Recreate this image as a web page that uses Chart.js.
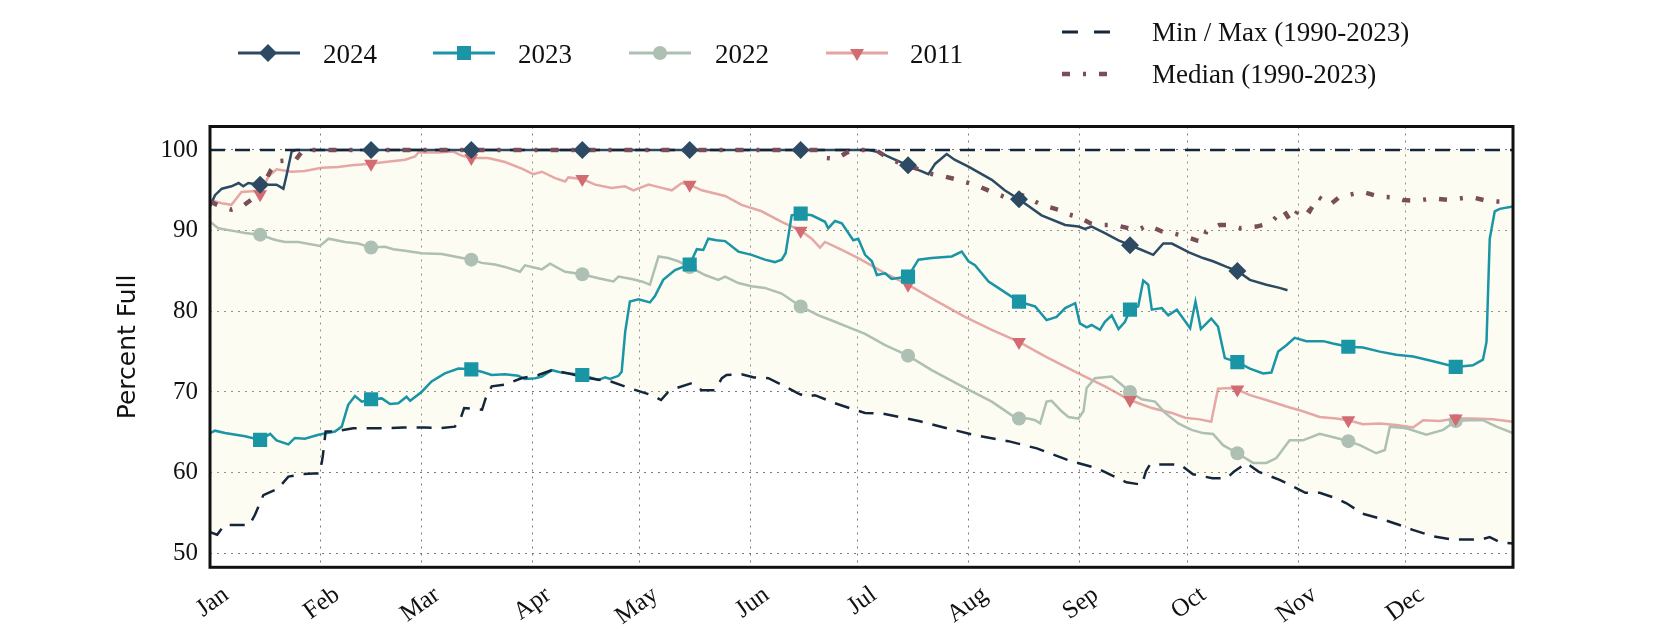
<!DOCTYPE html>
<html><head><meta charset="utf-8">
<script src="https://cdn.jsdelivr.net/npm/chart.js@4.4.1/dist/chart.umd.min.js"></script>
<style>
body{margin:0;background:#fff;}
#wrap{position:relative;width:1680px;height:630px;overflow:hidden;background:#fff;}
#c{position:absolute;left:0;top:0;}
.lg{position:absolute;font-family:"Liberation Serif",serif;font-size:27px;line-height:30px;color:#111;white-space:nowrap;}
.sw{position:absolute;overflow:visible;}
</style></head>
<body><div id="wrap"><canvas id="c" width="1680" height="630"></canvas>
<svg class="sw" style="left:238px;top:41px" width="62" height="24"><line x1="0" y1="12" x2="62" y2="12" stroke="#2c4a63" stroke-width="3"/><polygon points="21,12 30,3 39,12 30,21" fill="#2c4a63"/></svg>
<div class="lg" style="left:323px;top:39px">2024</div>
<svg class="sw" style="left:433px;top:41px" width="62" height="24"><line x1="0" y1="12" x2="62" y2="12" stroke="#1a95a6" stroke-width="3"/><rect x="24" y="5" width="14" height="14" fill="#1a95a6"/></svg>
<div class="lg" style="left:518px;top:39px">2023</div>
<svg class="sw" style="left:629px;top:41px" width="62" height="24"><line x1="0" y1="12" x2="62" y2="12" stroke="#aebfb3" stroke-width="3"/><circle cx="31" cy="12" r="7" fill="#aebfb3"/></svg>
<div class="lg" style="left:715px;top:39px">2022</div>
<svg class="sw" style="left:826px;top:41px" width="62" height="24"><line x1="0" y1="12" x2="62" y2="12" stroke="rgba(214,112,112,0.65)" stroke-width="3"/><polygon points="24,8 38,8 31,20" fill="#d36b72"/></svg>
<div class="lg" style="left:910px;top:39px">2011</div>
<svg class="sw" style="left:1062px;top:20px" width="50" height="24"><line x1="0" y1="12" x2="48" y2="12" stroke="#16263a" stroke-width="3" stroke-dasharray="16 16"/></svg>
<div class="lg" style="left:1152px;top:17px">Min / Max (1990-2023)</div>
<svg class="sw" style="left:1062px;top:62px" width="50" height="24"><line x1="0" y1="12" x2="48" y2="12" stroke="#7a4e58" stroke-width="4.5" stroke-dasharray="8 13 3 13"/></svg>
<div class="lg" style="left:1152px;top:59px">Median (1990-2023)</div>
</div>
<script>
const monthTickDays = [0,31,59,90,120,151,181,212,243,273,304,334];
const monthLabels = ['Jan','Feb','Mar','Apr','May','Jun','Jul','Aug','Sep','Oct','Nov','Dec'];
const yTickValues = [50,60,70,80,90,100];
const markerDays = [14,45,73,104,134,165,195,226,257,287,318,348];

const days2024 = [0,1.4,3.3,6,8,9.3,10.7,14,17,18.6,20.5,21.4,22.8,24,184,187,190.4,195,198,200.7,202.6,205.8,208,212,218.4,222,226,232.3,238.9,242.6,244.4,246.3,250,253.8,257,260.3,263.5,266.3,268.7,273.5,277.4,280.2,284,287,290.5,295.1,298.8,301];
const pct2024 = [93.0,94.4,95.2,95.5,95.9,95.5,95.9,95.7,95.7,95.7,95.2,96.9,99.8,100,100,99.7,99.0,98.1,97.5,97.0,98.3,99.5,98.8,97.9,96.3,95.0,93.9,91.9,90.7,90.5,90.2,90.5,89.7,88.8,88.2,87.6,87.0,88.4,88.4,87.3,86.6,86.2,85.5,85.0,83.9,83.3,82.9,82.6];

const days2023 = [0,1.4,4.2,9.8,14,16.8,18.6,21.9,23.7,26.5,30.3,34.9,36.8,38.6,40.5,42.4,45,48,50.3,52.6,54.9,55.9,59.1,61.9,65.6,69.4,73,75.9,78.7,82.4,86.1,88,90.8,92.7,95.5,98.2,104,108.5,110.4,111.7,114.1,115,116,117.3,119.7,122.9,124.3,126.6,129.9,134,136,137.8,139.2,141.5,143.9,147.6,151.3,155,157.8,159.7,160.8,162.5,165,168.1,171.8,172.7,174.6,176.5,179.7,181.1,183,184.9,186.3,188.6,190.4,195,197.9,201.6,207.2,210,211.9,213.7,217.5,220.2,226,230.5,233.7,236.5,238.9,241.7,243,244.9,246.3,248.6,250,251.9,253.8,255.6,257,259.3,260.7,262.1,263.1,265.9,267.7,270.1,273.8,275.3,276.8,279.7,281.6,283.5,287,290.5,294.2,296.5,298.4,300.7,303,306.3,311,313.7,318,322.1,326.8,331.4,336.1,341.7,348,352.8,355.6,356.6,357.5,358.9,360.3,364];
const pct2023 = [64.9,65.2,64.9,64.5,64.05,64.8,64.0,63.5,64.3,64.2,64.7,65.1,65.7,68.4,69.5,68.8,69.1,69.2,68.5,68.6,69.4,68.9,70.0,71.3,72.3,72.9,72.8,72.5,72.1,72.2,72.0,71.6,71.7,71.9,72.7,72.4,72.1,71.5,71.8,71.6,72.0,72.5,77.5,81.2,81.5,81.1,81.9,83.9,85.1,85.8,87.7,87.6,89.0,88.8,88.7,87.4,87.0,86.4,86.1,86.4,87.2,91.9,92.1,91.9,91.1,90.3,91.2,90.9,88.8,89.0,87.0,86.2,84.5,84.7,84.0,84.3,86.4,86.6,86.8,87.4,86.2,85.7,83.7,82.9,81.2,80.6,78.9,79.3,80.4,81.0,78.5,78.0,78.3,77.7,78.7,79.5,77.8,78.7,80.2,80.6,83.8,83.3,80.2,80.4,79.5,80.2,77.9,81.2,77.8,79.1,78.1,74.2,73.7,72.9,72.3,72.4,75.0,75.8,76.7,76.3,76.3,76.0,75.6,75.5,75.0,74.6,74.4,73.8,73.1,73.3,74.0,76.2,89.0,92.4,92.7,93.0];

const days2022 = [0,2.3,6,9.8,14,17.2,18.6,21,24.7,30.7,33.1,37.7,41.4,45,48.9,51.2,54.5,59.1,64.7,69.4,73,75.9,79.6,82.4,86.6,88,91.7,92.7,95,99.2,104,108.5,112.7,114.1,117.8,120.6,122.9,125.3,128,130.8,134,138.3,142,143.9,147.6,151.3,155,159.7,165,170,174.6,180.2,183,188.6,195,201.6,210.9,218.4,224,226,228.6,230.5,231.9,233.7,235.1,237.9,239.8,242.6,244,244.9,247.2,251.9,254.7,257,260.3,264,266.8,270.5,274.2,277.4,280.2,283,287,291.4,295.1,297.9,301.6,305.3,310,314.7,318,321.2,325.8,328.2,329.6,334.2,339.8,344.5,348,351.9,355.6,359.4,364];
const pct2022 = [91.1,90.3,90.0,89.7,89.5,89.0,88.8,88.6,88.6,88.1,89.0,88.6,88.4,87.9,88.0,87.7,87.5,87.2,87.1,86.7,86.4,86.0,85.8,85.5,84.9,85.7,85.3,85.2,85.9,84.9,84.6,84.1,83.7,84.3,84.0,83.7,83.3,86.8,86.6,86.2,85.5,84.5,83.9,84.3,83.5,83.1,82.9,82.2,80.6,79.5,78.7,77.7,77.2,75.8,74.5,72.7,70.5,68.8,67.1,66.7,66.7,66.5,66.1,68.8,68.9,67.6,66.9,66.7,67.6,70.5,71.7,71.9,70.9,70.0,69.1,68.8,67.4,66.1,65.3,64.9,64.8,63.4,62.4,61.2,61.2,61.8,64.0,64.0,64.8,64.3,63.9,63.4,62.4,62.8,65.7,65.5,64.7,65.3,66.4,66.5,66.5,65.7,64.9];

const days2011 = [0,3.3,6,8.8,12.6,14,16.3,18.6,22.8,26.5,31.2,35.8,39.6,45,48.9,54.5,57.3,58.2,63.8,68,70.3,73,77.7,82.4,87.1,90.3,92.7,96.4,99.2,100.1,104,107.6,112.2,115.9,118.3,122.5,126.2,129,131.8,134,137.4,143.9,148.5,154.1,159.7,165,168.1,170.4,171.8,176.5,181.1,183.5,188.6,195,201.6,210.9,218.4,226,233.3,242.6,250,257,263.1,268.7,272.4,276.5,279.7,281.6,284.9,287,290.5,295.1,300.7,305.3,310,314.7,318,322.1,326.8,331.4,336.1,338.9,343.5,348,352.8,358.4,364];
const pct2011 = [93.8,93.4,93.2,94.8,94.9,94.6,96.7,97.6,97.3,97.4,97.8,97.9,98.1,98.3,98.5,98.8,99.2,99.7,99.7,99.8,99.3,99.0,99.0,98.5,97.7,97.0,97.3,96.5,96.1,96.6,96.4,95.7,95.3,95.5,95.0,95.7,95.3,95.0,95.9,95.7,95.0,94.3,93.2,92.4,91.1,90.0,89.0,87.9,88.6,87.6,86.6,86.0,84.7,83.3,81.6,79.3,77.7,76.2,74.4,72.3,70.7,69.0,68.0,67.4,66.8,66.6,66.3,70.4,70.5,70.3,69.6,69.0,68.2,67.6,66.9,66.7,66.5,66.0,66.1,65.9,65.6,66.5,66.4,66.7,66.7,66.6,66.3];

const daysMedian = [0,3,6,9,12,15,17,19,24,26,170,172,175,178,180,186,189,193,198.8,200.7,205.3,209,212,214.7,218.4,223,226.8,232.3,237,239,242.6,246,248,252.8,256.6,259.3,262,265.9,268.7,271.5,275.6,277.4,278.3,282,284,287.7,292.3,294.2,297,299.8,302,304.4,305.4,307.2,309.5,312.8,315.6,320,322,326.8,331.4,333.3,337,341.7,346.3,351,353,356.6,360,364];
const pctMedian = [93.6,93.0,92.6,93.0,94.0,95.8,97.5,98.6,98.8,100,100,99.0,98.9,99.7,100,100,99.1,98.3,97.5,97.1,96.7,96.3,95.9,95.5,94.8,94.0,94.4,93.2,92.6,92.1,91.7,90.9,90.7,90.7,90.3,90.1,90.7,89.9,89.7,89.4,88.8,88.6,89.9,90.7,90.7,90.3,90.5,90.7,91.3,92.6,91.1,92.8,93.0,92.4,94.2,93.2,94.2,94.6,94.8,94.2,94.1,93.8,93.7,94.0,93.8,94.1,94.1,93.7,93.6,93.6];

const daysMin = [0,2,4,11,12.6,14.9,19,21.9,25.6,29,30.7,31.5,32.3,35,40,48,54,60,63.8,68.4,70,71,76,77,78.7,82.4,87,91.7,95.5,100,106,112,117,123.4,126,128,130.4,134.6,137.4,141,143,144.3,148.5,152,156,159.7,164.4,166.7,169,174.6,180,183,188,198,205,214,223,231,240,248,256,260.3,261.5,262.6,268,271,274.6,280,284,286,289.5,293,298.8,301.6,306,310,314.7,317.5,322,327,332.3,336,341.7,347,355,357.5,360.3,364];
const pctMin = [52.6,52.3,53.5,53.5,54.8,57.2,58.0,59.5,59.8,59.9,59.9,62.0,65.1,65.1,65.5,65.5,65.6,65.6,65.5,65.7,66.7,68.0,67.8,69.2,70.7,70.9,71.7,72.1,72.7,72.3,71.7,71.3,70.5,69.6,69.0,70.0,70.5,71.1,70.2,70.2,71.7,72.1,72.2,71.8,71.7,70.9,69.8,69.4,69.6,68.6,67.8,67.4,67.3,66.4,65.6,64.6,63.9,63.0,61.5,60.5,58.8,58.5,60.2,61.0,61.0,61.0,59.8,59.3,59.3,60.1,61.2,60.1,59.1,58.5,57.5,57.5,56.8,56.2,54.9,54.3,53.5,52.9,52.1,51.7,51.7,52.0,51.4,51.2];

const daysMax = [0,364];
const pctMax = [100,100];

const mk2024 = [95.7,100,100,100,100,100,98.1,93.9,88.2,85.0];
const mk2023 = [64.05,69.1,72.8,72.1,85.8,92.1,84.3,81.2,80.2,73.7,75.6,73.1];
const mk2022 = [89.5,87.9,86.4,84.6,85.5,80.6,74.5,66.7,70.0,62.4,63.9,66.4];
const mk2011 = [94.5,98.3,99.0,96.4,95.7,90.0,83.3,76.2,69.0,70.3,66.5,66.7];

const pts = (xs, ys) => xs.map((x, i) => ({x: x, y: ys[i]}));
const C24 = '#2c4a63', C23 = '#1a95a6', C22 = '#aebfb3', C11L = 'rgba(214,112,112,0.6)', C11M = '#d36b72';
const CMM = '#16263a', CMED = '#7a4e58';

const markerSet = (label, vals, style, r, color, rot) => ({
  label: label, data: pts(markerDays.slice(0, vals.length), vals), showLine: false,
  pointStyle: style, pointRadius: r, pointHoverRadius: r, pointRotation: rot || 0,
  pointBackgroundColor: color, pointBorderWidth: 0, borderColor: color
});
const lineSet = (label, xs, ys, color, w, dash) => ({
  label: label, data: pts(xs, ys), borderColor: color, borderWidth: w, borderDash: dash || [],
  pointRadius: 0, pointHoverRadius: 0, tension: 0, fill: false
});

const minSet = lineSet('Min', daysMin, pctMin, CMM, 2.5, [15, 10]);
minSet.fill = '-1';
minSet.backgroundColor = 'rgba(240,240,190,0.2)';

const datasets = [
  markerSet('2024 m', mk2024, 'rectRot', 9, C24),
  markerSet('2023 m', mk2023, 'rect', 10, C23),
  markerSet('2011 m', mk2011, 'triangle', 8, C11M, 180),
  markerSet('2022 m', mk2022, 'circle', 7, C22),
  lineSet('Median', daysMedian, pctMedian, CMED, 4.5, [8, 13, 3, 13]),
  lineSet('Max', daysMax, pctMax, CMM, 2.5, [15, 10]),
  minSet,
  lineSet('2024', days2024, pct2024, C24, 2.5),
  lineSet('2023', days2023, pct2023, C23, 2.5),
  lineSet('2022', days2022, pct2022, C22, 2.5),
  lineSet('2011', days2011, pct2011, C11L, 2.5)
];

const framePlugin = {
  id: 'frame',
  afterDatasetsDraw(chart) {
    const {ctx, chartArea: a} = chart;
    ctx.save();
    ctx.strokeStyle = '#111';
    ctx.lineWidth = 3;
    ctx.strokeRect(a.left, a.top, a.right - a.left, a.bottom - a.top);
    ctx.restore();
  }
};

new Chart(document.getElementById('c'), {
  type: 'line',
  data: {datasets: datasets},
  plugins: [framePlugin],
  options: {
    responsive: false, animation: false, devicePixelRatio: 1,
    layout: {padding: {left: 110, right: 167, top: 126.5, bottom: 0}},
    plugins: {legend: {display: false}, tooltip: {enabled: false}, filler: {drawTime: 'beforeDatasetsDraw'}},
    scales: {
      x: {
        type: 'linear', min: 0, max: 364,
        afterBuildTicks: s => { s.ticks = monthTickDays.map(v => ({value: v})); },
        afterFit: s => { s.height = 62.7; },
        grid: {color: 'rgba(90,90,90,0.8)', lineWidth: 1, drawTicks: false},
        border: {display: false, dash: [2, 5]},
        ticks: {
          autoSkip: false, maxRotation: 36, minRotation: 36, padding: 13, labelOffset: 16,
          color: '#111', font: {family: 'Liberation Serif', size: 25},
          callback: v => { const i = monthTickDays.indexOf(v); return i >= 0 ? monthLabels[i] : ''; }
        }
      },
      y: {
        type: 'linear', min: 48.26, max: 102.91,
        afterBuildTicks: s => { s.ticks = yTickValues.map(v => ({value: v})); },
        afterFit: s => { s.width = 100; },
        grid: {color: 'rgba(90,90,90,0.8)', lineWidth: 1, drawTicks: false},
        border: {display: false, dash: [2, 5]},
        ticks: {padding: 12, color: '#111', font: {family: 'Liberation Serif', size: 25}},
        title: {display: true, text: 'Percent Full', color: '#111', font: {family: 'DejaVu Sans', size: 25}, padding: {top: 3, bottom: 0}}
      }
    }
  }
});
</script>
</body></html>
